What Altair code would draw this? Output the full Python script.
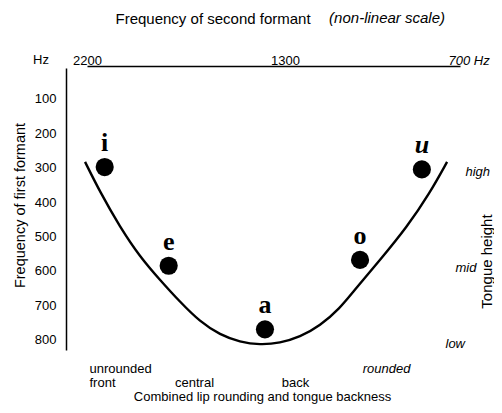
import altair as alt
import pandas as pd

# ---------------- data ----------------
vowels = ["i", "e", "a", "o", "u"]
vowel_f2 = [2110, 1800, 1380, 1020, 815]      # Hz, second formant
vowel_f1 = [298, 585, 770, 568, 305]          # Hz, first formant

curve_f2 = [2210, 2134, 2034, 1936, 1841, 1748, 1657, 1569, 1484, 1400,
            1320, 1241, 1165, 1091, 1045, 951, 862, 790, 738]
curve_f1 = [283, 370, 472, 559, 626, 690, 748, 786, 807, 815,
            810, 792, 760, 708, 661, 568, 472, 373, 283]

f2_ticks = [2200, 1300, 700]
f1_ticks = [100, 200, 300, 400, 500, 600, 700, 800]

height_names = ["high", "mid", "low"]
height_f1 = [312, 591, 810]

backness_f2 = [2200, 1684, 1260, 931]
backness_top = ["unrounded", "", "", "rounded"]
backness_bottom = ["front", "central", "back", ""]

SANS = "Liberation Sans"
SERIF = "Liberation Serif"

vowel_df = pd.DataFrame({"vowel": vowels, "f2": vowel_f2, "f1": vowel_f1})
curve_df = pd.DataFrame({"idx": list(range(len(curve_f2))), "f2": curve_f2, "f1": curve_f1})

xscale = alt.Scale(type="sqrt", domain=[2200, 700], nice=False, zero=False)
yscale = alt.Scale(domain=[10, 830], reverse=True, nice=False, zero=False)

# expressions for axis labels
def ternary(vals, outs, default):
    expr = default
    for v, o in reversed(list(zip(vals, outs))):
        expr = f"datum.value == {v} ? {o} : ({expr})"
    return expr

back_expr = ternary(
    backness_f2,
    [f"['{a}', '{b}']" for a, b in zip(backness_top, backness_bottom)],
    "''",
)
height_expr = ternary(height_f1, [f"'{n}'" for n in height_names], "''")

top_axis = alt.Axis(
    orient="top", values=f2_ticks, ticks=False, grid=False,
    labelExpr="datum.value == 700 ? '700 Hz' : '' + datum.value",
    labelFontSize=13, labelFont=SANS, labelColor="black",
    labelBaseline="alphabetic", labelPadding=2,
    labelAlign={"condition": {"test": "datum.value == 700", "value": "left"}, "value": "center"},
    labelOffset={"condition": {"test": "datum.value == 700", "value": -12}, "value": 0},
    labelFontStyle={"condition": {"test": "datum.value == 700", "value": "italic"}, "value": "normal"},
    domainColor="black", domainWidth=1.5, offset=2,
    title="Frequency of second formant", titleFont=SANS, titleFontSize=15,
    titleFontWeight="normal", titleColor="black", titleAngle=0,
    titleX=28, titleY=-43, titleAlign="left", titleBaseline="alphabetic",
)

left_axis = alt.Axis(
    orient="left", values=f1_ticks, ticks=False, grid=False,
    labelFontSize=13, labelFont=SANS, labelColor="black", labelPadding=10,
    labelBaseline="middle",
    domainColor="black", domainWidth=1.5, offset=21,
    title="Frequency of first formant", titleFont=SANS, titleFontSize=14.5,
    titleFontWeight="normal", titleColor="black", titleAngle=270,
    titleX=-46, titleY=137, titleAlign="center", titleBaseline="middle",
)

bottom_axis = alt.Axis(
    orient="bottom", values=backness_f2, ticks=False, grid=False, domain=False,
    labelExpr=back_expr, labelFontSize=13, labelFont=SANS, labelColor="black",
    labelBaseline="top", labelPadding=12, labelLineHeight=14,
    labelAlign={"condition": {"test": "datum.value == 2200", "value": "left"}, "value": "center"},
    labelOffset={"condition": {"test": "datum.value == 2200", "value": 2}, "value": 0},
    labelFontStyle={"condition": {"test": "datum.value == 931", "value": "italic"}, "value": "normal"},
    title="Combined lip rounding and tongue backness", titleFont=SANS, titleFontSize=13,
    titleFontWeight="normal", titleColor="black",
    titleX=175, titleY=46, titleAlign="center", titleBaseline="middle",
)

right_axis = alt.Axis(
    orient="right", values=height_f1, ticks=False, grid=False, domain=False,
    labelExpr=height_expr, labelFontSize=13, labelFont=SANS, labelColor="black",
    labelFontStyle="italic", labelAlign="left", labelBaseline="middle",
    labelPadding={"condition": [
        {"test": f"datum.value == {height_f1[1]}", "value": -5},
        {"test": f"datum.value == {height_f1[2]}", "value": -15},
    ], "value": 5},
    title="Tongue height", titleFont=SANS, titleFontSize=15,
    titleFontWeight="normal", titleColor="black", titleAngle=270,
    titleX=26, titleY=193, titleAlign="center", titleBaseline="middle",
)

curve = alt.Chart(curve_df).mark_line(color="black", strokeWidth=2.4, interpolate="basis").encode(
    x=alt.X("f2:Q", scale=xscale, axis=top_axis),
    y=alt.Y("f1:Q", scale=yscale, axis=left_axis),
    order="idx:Q",
)

points = alt.Chart(vowel_df).mark_circle(color="black", opacity=1, size=330).encode(
    x=alt.X("f2:Q", scale=xscale, axis=None),
    y=alt.Y("f1:Q", scale=yscale, axis=None),
)

labels = alt.Chart(vowel_df).transform_filter("datum.vowel != 'u'").mark_text(
    font=SERIF, fontWeight="bold", fontSize=26, baseline="alphabetic", dy=-16, color="black"
).encode(
    x=alt.X("f2:Q", scale=xscale, axis=bottom_axis),
    y=alt.Y("f1:Q", scale=yscale, axis=right_axis),
    text="vowel:N",
)

label_u = alt.Chart(vowel_df).transform_filter("datum.vowel == 'u'").mark_text(
    font=SERIF, fontWeight="bold", fontStyle="italic", fontSize=26, baseline="alphabetic",
    dy=-16, color="black"
).encode(
    x=alt.X("f2:Q", scale=xscale, axis=None),
    y=alt.Y("f1:Q", scale=yscale, axis=None),
    text="vowel:N",
)

hz = alt.Chart(alt.Data(values=[{}])).mark_text(
    text="Hz", align="left", baseline="alphabetic", font=SANS, fontSize=13, color="black"
).encode(x=alt.value(-54), y=alt.value(-4))

nonlin = alt.Chart(alt.Data(values=[{}])).mark_text(
    text="(non-linear scale)", align="right", baseline="alphabetic", font=SANS,
    fontSize=15, fontStyle="italic", color="black"
).encode(x=alt.value(358), y=alt.value(-45))

chart = alt.layer(curve, points, labels, label_u, hz, nonlin).resolve_axis(
    x="independent", y="independent"
).properties(
    width=373, height=282,
    autosize=alt.AutoSizeParams(type="none"),
    padding={"left": 79, "top": 60, "right": 34, "bottom": 55},
    background="white",
).configure_view(stroke=None)

chart.save("out.html", embed_options={"renderer": "svg", "actions": False})
